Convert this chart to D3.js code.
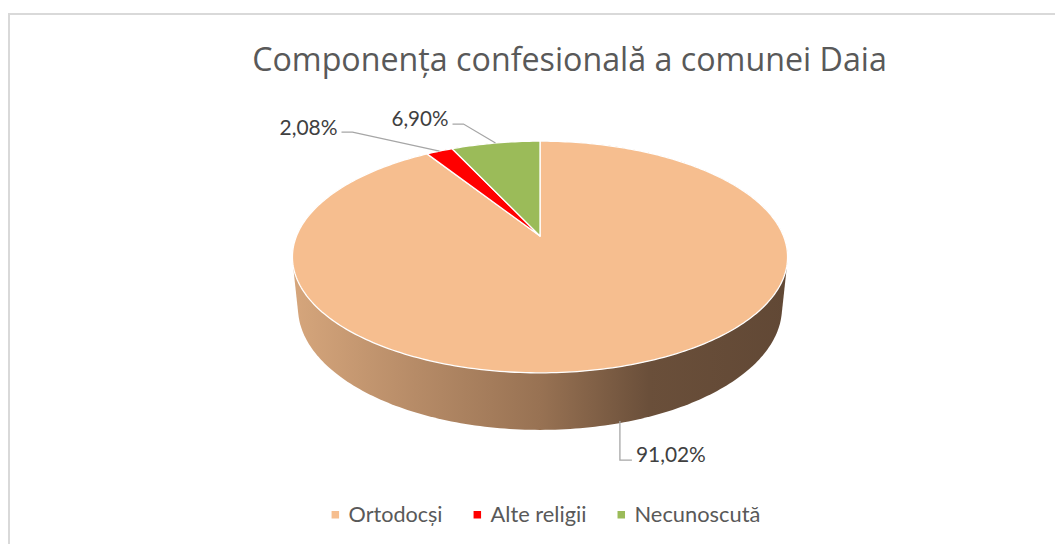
<!DOCTYPE html>
<html><head><meta charset="utf-8">
<script src="https://cdn.jsdelivr.net/npm/d3@7"></script>
<style>body{margin:0;background:#fff}svg{display:block}</style>
</head><body>
<svg id="chart" width="1055" height="544"></svg>
<script>
const title = "Componența confesională a comunei Daia";
const categories = ["Ortodocși", "Alte religii", "Necunoscută"];
const values = [91.02, 2.08, 6.90];
const valueLabels = ["91,02%", "2,08%", "6,90%"];
const colors = ["#F6BE8F", "#FF0000", "#9BBB59"];

const W = 1055, H = 544;
const svg = d3.select("#chart");
const FONT = "Lato, 'Open Sans', sans-serif";
const TFONT = "'Open Sans', sans-serif";

function fitText(sel, target) {
  sel.attr("font-size", 100);
  const w = sel.node().getComputedTextLength();
  sel.attr("font-size", 100 * target / w);
}

// border
svg.append("path").attr("d", `M9,${H} V14 H${W}`).attr("fill", "none")
  .attr("stroke", "#d9d9d9").attr("stroke-width", 2);

// title
const t = svg.append("text").attr("x", 569.5).attr("y", 71).attr("text-anchor", "middle")
  .attr("fill", "#595959").attr("font-family", TFONT).text(title);
fitText(t, 635);

// 3D perspective projection
const cx = 540, cy = 236, F = 1193, dist = 4.9, alpha = 27.4 * Math.PI / 180, thick = 0.236;
const sa = Math.sin(alpha), ca = Math.cos(alpha);
function project(x, z, y) { // x right, z far, y up
  const depth = dist + z * ca - y * sa;
  const vert = y * ca + z * sa;
  return [cx + F * x / depth, cy - F * vert / depth];
}
const angAt = a => [Math.sin(a), Math.cos(a)];

const pie = d3.pie().sort(null).value(d => d)(values);

const defs = svg.append("defs");
const grad = defs.append("linearGradient").attr("id", "side").attr("gradientUnits", "userSpaceOnUse")
  .attr("x1", cx - 248).attr("x2", cx + 248).attr("y1", 0).attr("y2", 0);
[[0, "#D6A67C"], [0.25, "#B68B67"], [0.5, "#987253"], [0.72, "#6A4F3A"], [1, "#614835"]]
  .forEach(([o, c]) => grad.append("stop").attr("offset", o).attr("stop-color", c));

// side wall
const N = 360;
const pts = [];
for (let i = 0; i < N; i++) {
  const [x, z] = angAt(2 * Math.PI * i / N);
  pts.push(project(x, z, 0));
  pts.push(project(x, z, -thick));
}
const hull = d3.polygonHull(pts);
svg.append("path").attr("d", "M" + hull.join("L") + "Z").attr("fill", "url(#side)");

// top face slices
const line = d3.line();
pie.forEach((p, i) => {
  const poly = [project(0, 0, 0)];
  const n = Math.max(4, Math.ceil((p.endAngle - p.startAngle) / (Math.PI / 180)));
  for (let k = 0; k <= n; k++) {
    const a = p.startAngle + (p.endAngle - p.startAngle) * k / n;
    const [x, z] = angAt(a);
    poly.push(project(x, z, 0));
  }
  svg.append("path").attr("d", line(poly) + "Z").attr("fill", colors[i])
    .attr("stroke", "#fff").attr("stroke-width", 1.3).attr("stroke-linejoin", "round");
});

// data labels with leader lines
const lblG = svg.append("g").attr("font-family", FONT).attr("fill", "#404040");
pie.forEach((p, i) => {
  const mid = (p.startAngle + p.endAngle) / 2;
  const [x, z] = angAt(mid);
  const front = z < 0;
  const anchor = front ? project(x, z, -thick) : project(x, z, 0);
  let path, tx, ty, anchorTxt, widthT;
  if (i === 0) {
    const ly = anchor[1] + 37;
    path = [[anchor[0], anchor[1] - 2], [anchor[0], ly], [anchor[0] + 12, ly]];
    tx = anchor[0] + 16; ty = ly + 2; anchorTxt = "start"; widthT = 70;
  } else if (i === 1) {
    const lx = anchor[0] - 87, ly = anchor[1] - 19;
    path = [anchor, [lx, ly], [lx - 11, ly]];
    tx = lx - 15; ty = ly + 3; anchorTxt = "end"; widthT = 58;
  } else {
    const lx = anchor[0] - 32, ly = anchor[1] - 19;
    path = [anchor, [lx, ly], [lx - 11, ly]];
    tx = lx - 15; ty = ly + 2; anchorTxt = "end"; widthT = 57;
  }
  svg.append("path").attr("d", line(path)).attr("fill", "none")
    .attr("stroke", "#A6A6A6").attr("stroke-width", 1.3);
  const tt = lblG.append("text").attr("x", tx).attr("y", ty).attr("text-anchor", anchorTxt)
    .text(valueLabels[i]);
  fitText(tt, widthT);
});

// legend
const legTargets = [94, 96, 126];
const lg = svg.append("g").attr("font-family", FONT).attr("fill", "#595959");
const items = categories.map((c, i) => {
  const g = lg.append("g");
  g.append("rect").attr("width", 7.5).attr("height", 7.5).attr("y", -11).attr("fill", colors[i]);
  const tx = g.append("text").attr("x", 17).attr("y", 0).text(c);
  fitText(tx, legTargets[i]);
  return { g, w: 17 + tx.node().getComputedTextLength() };
});
const gap = 31;
const total = d3.sum(items, d => d.w) + gap * (items.length - 1);
let lx = 546 - total / 2;
items.forEach(it => { it.g.attr("transform", `translate(${lx},522)`); lx += it.w + gap; });
</script>
</body></html>
